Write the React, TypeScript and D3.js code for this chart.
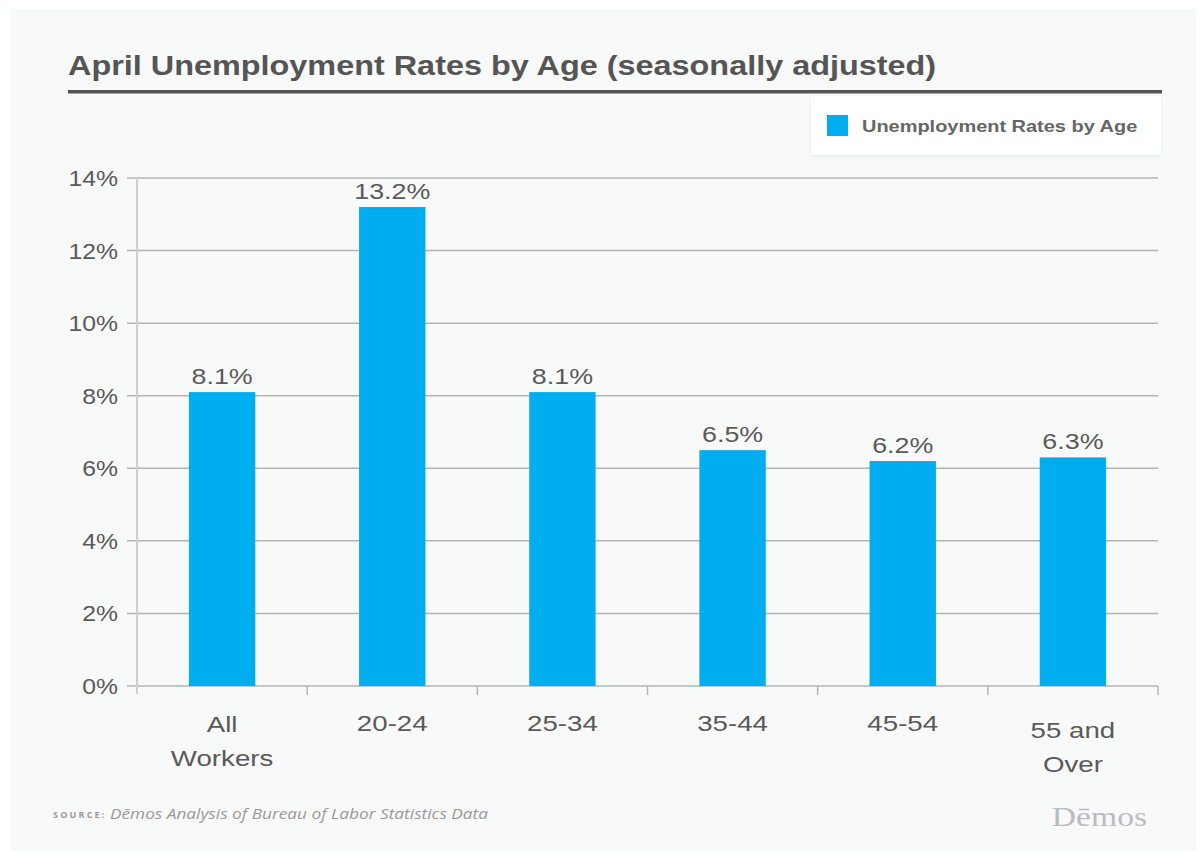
import React from "react";
import * as d3 from "d3";

const categories = ["All\nWorkers", "20-24", "25-34", "35-44", "45-54", "55 and\nOver"];
const values = [8.1, 13.2, 8.1, 6.5, 6.2, 6.3];
const valueLabels = ["8.1%", "13.2%", "8.1%", "6.5%", "6.2%", "6.3%"];
const yTicks = [0, 2, 4, 6, 8, 10, 12, 14];
const seriesName = "Unemployment Rates by Age";
const title = "April Unemployment Rates by Age (seasonally adjusted)";

function T({ x, y, sx = 1.2, children, ...rest }: any) {
  return (
    <text transform={`translate(${x},${y}) scale(${sx},1)`} {...rest}>{children}</text>
  );
}

export default function App() {
  const W = 1203, H = 855;
  const left = 137, right = 1158, top = 178, bottom = 686;
  const x = d3.scaleBand<string>().domain(categories).range([left, right]).paddingInner(0.61).paddingOuter(0.305);
  const xb = d3.scaleBand<string>().domain(categories).range([left, right]);
  const y = d3.scaleLinear().domain([0, 14]).range([bottom, top]);
  const textCol = "#5a5a5a";
  const font = "'Liberation Sans', Arial, Helvetica, sans-serif";
  return (
    <svg width={W} height={H} style={{ position: "absolute", left: 0, top: 0 }} fontFamily={font}>
      <defs>
        <filter id="sh" x="-10%" y="-20%" width="120%" height="150%">
          <feDropShadow dx="0" dy="1" stdDeviation="1.5" floodColor="#000" floodOpacity="0.08" />
        </filter>
      </defs>
      <rect x={0} y={0} width={W} height={H} fill="#ffffff" />
      <rect x={11} y={9} width={1185} height={842} fill="#f8f9f9" />
      <T x={68} y={75} sx={1.2} fontSize={27} fontWeight="bold" fill="#555">{title}</T>
      <rect x={68} y={90} width={1094} height={3.5} fill="#555" />
      <rect x={811} y={96} width={350} height={59} fill="#fff" filter="url(#sh)" />
      <rect x={827} y={115} width={21} height={21} fill="#00aeef" />
      <T x={862} y={132} sx={1.21} fontSize={16.5} fontWeight="bold" fill="#666">{seriesName}</T>
      {yTicks.map((t) => (
        <g key={t}>
          <line x1={127} x2={right} y1={y(t)} y2={y(t)} stroke="#b4b4b4" strokeWidth={1.5} />
          <T x={118} y={y(t) + 8} sx={1.1} fontSize={22.5} textAnchor="end" fill={textCol}>{t}%</T>
        </g>
      ))}
      <line x1={left} x2={left} y1={top} y2={bottom + 8} stroke="#cfcfcf" strokeWidth={2} />
      {categories.map((c) => (
        <line key={"t" + c} x1={(xb(c) as number) + xb.bandwidth()} x2={(xb(c) as number) + xb.bandwidth()} y1={bottom} y2={bottom + 9} stroke="#b4b4b4" strokeWidth={1.5} />
      ))}
      {categories.map((c, i) => (
        <g key={c}>
          <rect x={x(c)} y={y(values[i])} width={x.bandwidth()} height={bottom - y(values[i])} fill="#00aeef" />
          <T x={(x(c) as number) + x.bandwidth() / 2} y={y(values[i]) - 8} sx={1.22} fontSize={22} textAnchor="middle" fill={textCol}>{valueLabels[i]}</T>
          {c.split("\n").map((line, j) => (
            <T key={j} x={(x(c) as number) + x.bandwidth() / 2} y={(c.includes("\n") ? 732 : 731) + j * 34 + (c.startsWith("55") ? 6 : 0)} sx={1.23} fontSize={22.5} textAnchor="middle" fill={textCol}>{line}</T>
          ))}
        </g>
      ))}
      <text x={53} y={818} fontSize={9} fontWeight="bold" letterSpacing={2.2} fill="#999" fontFamily="'Open Sans', sans-serif">SOURCE:</text>
      <T x={110} y={819} sx={1.19} fontSize={14.5} fontStyle="italic" fill="#999" fontFamily="'Open Sans', sans-serif">Dēmos Analysis of Bureau of Labor Statistics Data</T>
      <T x={1147} y={826} sx={1.2} fontSize={28} textAnchor="end" fill="#b9bcc0" fontFamily="'Liberation Serif', 'DejaVu Serif', serif">Dēmos</T>
    </svg>
  );
}
